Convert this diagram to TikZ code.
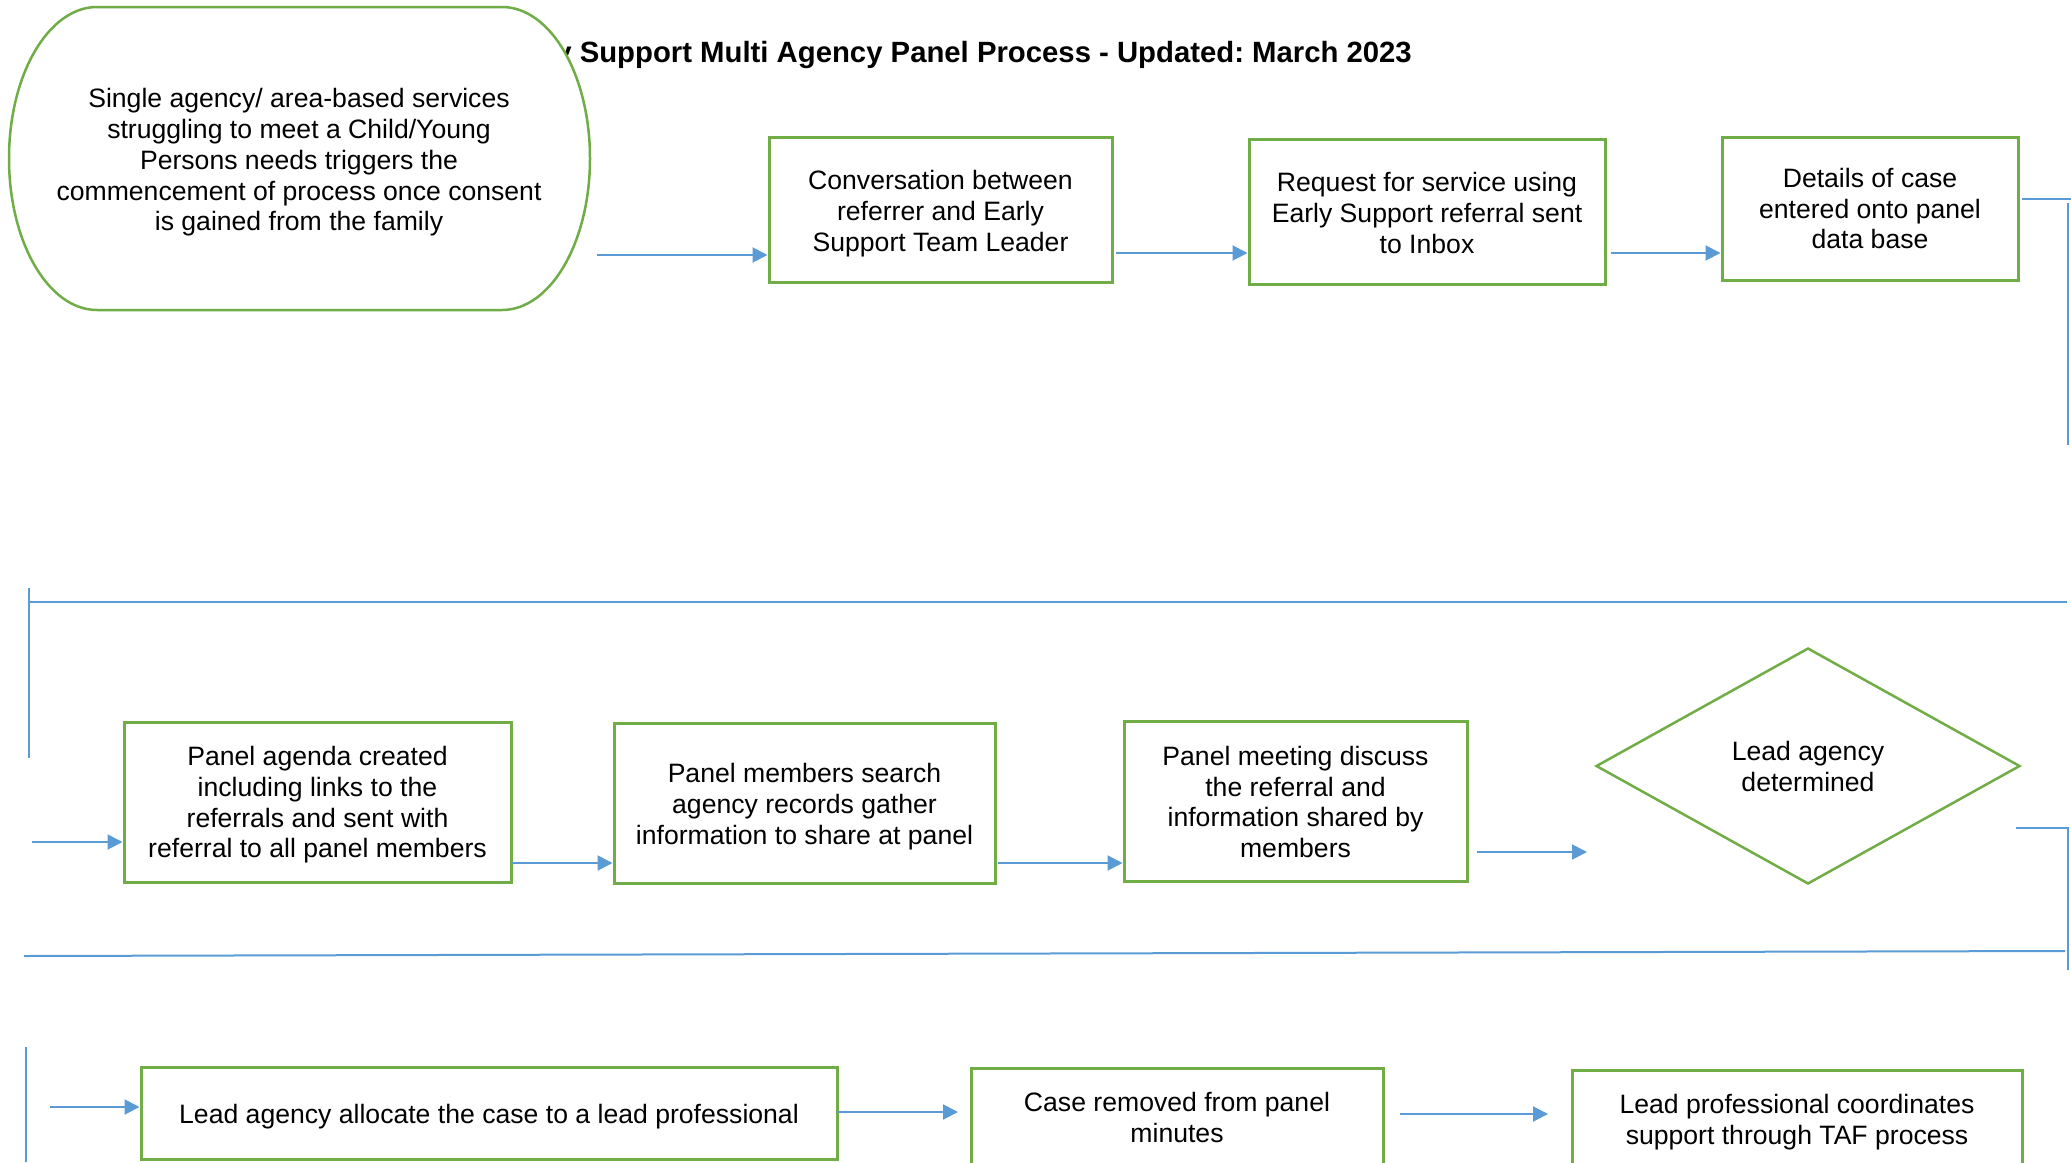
\documentclass[tikz,border=0pt]{standalone}
\usepackage{fontspec}
\setmainfont{Liberation Sans}
\usetikzlibrary{arrows.meta,shapes.geometric}
\definecolor{grn}{HTML}{70AD47}
\definecolor{blu}{HTML}{5B9BD5}
\newcommand{\bodyfont}{\fontsize{26.6}{30.7}\selectfont}
\newcommand{\titlefont}{\fontsize{29.3}{34}\selectfont\bfseries\frenchspacing}
\tikzset{
  box/.style={draw=grn, line width=3pt, fill=white, inner sep=0pt},
  txt/.style={align=center, font=\bodyfont, inner sep=0pt},
  conn/.style={draw=blu, line width=2pt},
  arr/.style={conn, -{Triangle[length=15pt,width=15pt]}},
}
\begin{document}
\begin{tikzpicture}[x=1pt,y=-1pt]
\useasboundingbox (0,0) rectangle (2071,1162);
\clip (0,0) rectangle (2071,1162);
% title (partly hidden by the start shape)
\node[font=\titlefont, anchor=base east, inner sep=0pt] (title) at (1412,62) {Early Support Multi Agency Panel Process - Updated: March 2023};
% start shape
\filldraw[draw=grn, fill=white, line width=2.5pt]
  (97,7) -- (502,7) .. controls (550.6,7) and (590,74.8) .. (590,158.5)
  .. controls (590,242.2) and (550.6,310) .. (502,310) -- (97,310)
  .. controls (48.4,310) and (9,242.2) .. (9,158.5)
  .. controls (9,74.8) and (48.4,7) .. (97,7) -- cycle;
\node[txt] (ell) at (299,162.5)
  {Single agency/ area-based services\\struggling to meet a Child/Young\\Persons needs triggers the\\commencement of process once consent\\is gained from the family};
% row 1
\node[box, minimum width=343, minimum height=145] (b1) at (940.5,209.5) {};
\node[box, minimum width=356, minimum height=145] (b2) at (1427,211.5) {};
\node[box, minimum width=296, minimum height=143] (b3) at (1870,208.5) {};
\node[txt] (t1) at ([yshift=-4pt]b1.center) {Conversation between\\referrer and Early\\Support Team Leader};
\node[txt] (t2) at ([yshift=-1.5pt]b2.center) {Request for service using\\Early Support referral sent\\to Inbox};
\node[txt] (t3) at (b3.center) {Details of case\\entered onto panel\\data base};
% row 2
\node[box, minimum width=387, minimum height=160] (b4) at (317.5,802) {};
\node[box, minimum width=381, minimum height=160] (b5) at (804.5,803) {};
\node[box, minimum width=343, minimum height=160] (b6) at (1295.5,801) {};
\node[box, diamond, line width=2.5pt, minimum width=424, minimum height=236] (d) at (1808,766) {};
\node[txt] (t4) at ([yshift=-3pt]b4.center) {Panel agenda created\\including links to the\\referrals and sent with\\referral to all panel members};
\node[txt] (t5) at ([yshift=-3.5pt]b5.center) {Panel members search\\agency records gather\\information to share at panel};
\node[txt] (t6) at ([yshift=-1pt]b6.center) {Panel meeting discuss\\the referral and\\information shared by\\members};
\node[txt] (td) at ([yshift=-0.5pt]d.center) {Lead agency\\determined};
% row 3
\node[box, minimum width=696, minimum height=92] (b7) at (489,1113) {};
\node[box, minimum width=412, minimum height=100] (b8) at (1177,1118) {};
\node[box, minimum width=450, minimum height=98] (b9) at (1797,1119) {};
\node[txt] (t7) at ([yshift=-4pt]b7.center) {Lead agency allocate the case to a lead professional};
\node[txt] (t8) at ([yshift=0.5pt]b8.center) {Case removed from panel\\minutes};
\node[txt] (t9) at ([yshift=-3pt]b9.center) {Lead professional coordinates\\support through TAF process};
% connector points
\coordinate (s0) at (597,255);
\coordinate (s1) at (1116,253);
\coordinate (s2) at (1611,253);
\coordinate (c1a) at (2022,199);
\coordinate (c1b) at (2071,199);
\coordinate (c1c) at (2068,203);
\coordinate (c1d) at (2068,445);
\coordinate (c2a) at (2067,602);
\coordinate (c2b) at (29,602);
\coordinate (c2c) at (29,588);
\coordinate (c2d) at (29,758);
\coordinate (s3) at (32,842);
\coordinate (s4) at (511,863);
\coordinate (s5) at (998,863);
\coordinate (s6) at (1477,852);
\coordinate (e6) at (1587,852);
\coordinate (c3a) at (2016,828);
\coordinate (c3b) at (2068,970);
\coordinate (c3c) at (2065,951);
\coordinate (c3d) at (24,956);
\coordinate (c4a) at (26,1047);
\coordinate (c4b) at (26,1162);
\coordinate (s7) at (50,1107);
\coordinate (s8) at (837,1112);
\coordinate (e8) at (958,1112);
\coordinate (s9) at (1400,1114);
\coordinate (e9) at (1548,1114);
% connectors
\draw[arr] (s0) -- (b1.west |- s0);
\draw[arr] (s1) -- (b2.west |- s1);
\draw[arr] (s2) -- (b3.west |- s2);
\draw[conn] (c1a) -- (c1b);
\draw[conn] (c1c) -- (c1d);
\draw[conn] (c2a) -- (c2b);
\draw[conn] (c2c) -- (c2d);
\draw[arr] (s3) -- (b4.west |- s3);
\draw[arr] (s4) -- (b5.west |- s4);
\draw[arr] (s5) -- (b6.west |- s5);
\draw[arr] (s6) -- (e6);
\draw[conn] (c3a) -| (c3b);
\draw[conn] (c3c) -- (c3d);
\draw[conn] (c4a) -- (c4b);
\draw[arr] (s7) -- (b7.west |- s7);
\draw[arr] (s8) -- (e8);
\draw[arr] (s9) -- (e9);
\end{tikzpicture}
\end{document}
